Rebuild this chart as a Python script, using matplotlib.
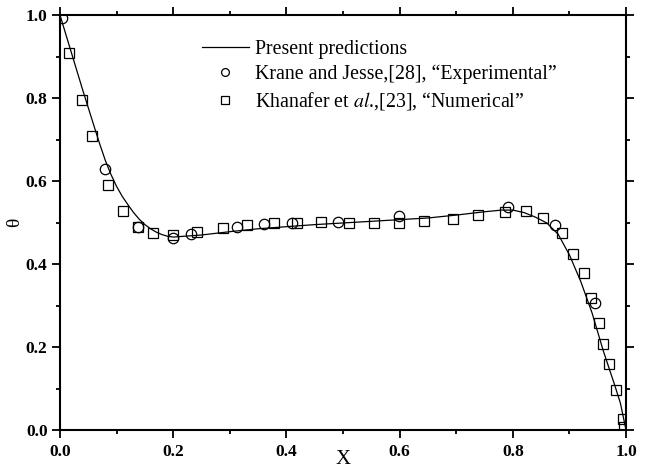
import numpy as np
import matplotlib
matplotlib.use('Agg')
import matplotlib.pyplot as plt
from matplotlib.ticker import MultipleLocator

plt.rcParams['font.family'] = ['Liberation Serif', 'DejaVu Serif']
plt.rcParams['mathtext.fontset'] = 'stix'

# present predictions (solid curve)
curve_x = [0.00, 0.02, 0.04, 0.06, 0.07, 0.08, 0.09, 0.10, 0.11, 0.12, 0.13, 0.14,
           0.15, 0.16, 0.17, 0.18, 0.19, 0.20, 0.25, 0.30, 0.35, 0.40, 0.45, 0.50,
           0.55, 0.60, 0.65, 0.70, 0.75, 0.78, 0.80, 0.82, 0.84, 0.86, 0.88, 0.90,
           0.92, 0.94, 0.96, 0.98, 0.99, 1.00]
curve_y = [1.000, 0.910, 0.820, 0.733, 0.690, 0.650, 0.616, 0.587, 0.563, 0.543, 0.524, 0.508,
           0.495, 0.485, 0.477, 0.471, 0.467, 0.465, 0.470, 0.478, 0.485, 0.490, 0.495, 0.499,
           0.503, 0.507, 0.511, 0.518, 0.526, 0.530, 0.530, 0.524, 0.513, 0.499, 0.472, 0.422,
           0.358, 0.282, 0.190, 0.108, 0.065, 0.000]

# Krane and Jesse (circles)
krane_x = [0.003, 0.080, 0.137, 0.200, 0.231, 0.313, 0.360, 0.410, 0.491, 0.599, 0.791, 0.875, 0.945]
krane_y = [0.992, 0.628, 0.490, 0.463, 0.472, 0.489, 0.496, 0.498, 0.501, 0.516, 0.537, 0.494, 0.306]

# Khanafer et al. (squares)
khan_x = [0.016, 0.038, 0.057, 0.085, 0.111, 0.138, 0.164, 0.200, 0.242, 0.288, 0.330,
          0.378, 0.419, 0.461, 0.510, 0.555, 0.599, 0.643, 0.694, 0.739, 0.786, 0.823,
          0.853, 0.887, 0.906, 0.926, 0.938, 0.952, 0.960, 0.970, 0.982, 0.995, 0.997]
khan_y = [0.908, 0.795, 0.708, 0.590, 0.529, 0.489, 0.475, 0.471, 0.477, 0.487, 0.494,
          0.499, 0.499, 0.501, 0.499, 0.499, 0.499, 0.504, 0.508, 0.518, 0.525, 0.528,
          0.511, 0.475, 0.424, 0.378, 0.318, 0.258, 0.207, 0.159, 0.096, 0.027, 0.007]

fig = plt.figure(figsize=(6.48, 4.72), dpi=100)
ax = fig.add_axes([0.0926, 0.089, 0.8735, 0.879])

ax.plot(curve_x, curve_y, color='black', lw=0.9, label='Present predictions')
ax.plot(krane_x, krane_y, 'o', ms=7.5, mfc='none', mec='black', mew=0.9,
        label='Krane and Jesse,[28], \u201cExperimental\u201d')
ax.plot(khan_x, khan_y, 's', ms=7, mfc='none', mec='black', mew=0.9,
        label='Khanafer et $\\mathit{al}$.,[23], \u201cNumerical\u201d')

ax.set_xlim(0, 1)
ax.set_ylim(0, 1)
ax.xaxis.set_major_locator(MultipleLocator(0.2))
ax.xaxis.set_minor_locator(MultipleLocator(0.1))
ax.yaxis.set_major_locator(MultipleLocator(0.2))
ax.yaxis.set_minor_locator(MultipleLocator(0.1))
ax.tick_params(which='both', direction='out', top=True, right=True, width=1.3)
ax.tick_params(which='major', length=6, pad=3)
ax.tick_params(axis='x', which='major', pad=4)
ax.tick_params(which='minor', length=3)
for lab in ax.get_xticklabels() + ax.get_yticklabels():
    lab.set_fontweight('bold')
    lab.set_fontsize(12.5)
for sp in ax.spines.values():
    sp.set_linewidth(1.5)

ax.set_xlabel('X', fontsize=15, labelpad=-7)
ax.set_ylabel('\u03b8', fontsize=14, labelpad=2)

ax.legend(loc='upper left', bbox_to_anchor=(0.25, 0.94), frameon=False,
          fontsize=14.3, handlelength=2.4, handletextpad=0.3, labelspacing=0.3,
          borderpad=0, borderaxespad=0, markerscale=0.75)

fig.savefig('out.png', dpi=100)
